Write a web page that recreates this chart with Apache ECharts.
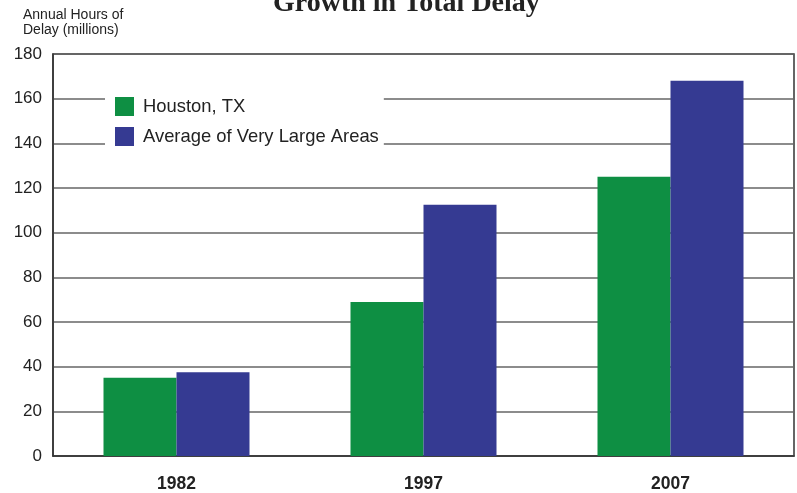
<!DOCTYPE html>
<html style='height: 100%'>
<head>
    <meta charset='utf-8'>
</head>
<body style='height: 100%; margin: 0; background: #fff'>
    <div id='container' style='width: 797px; height: 493px'></div>
    <script type='text/javascript' src='https://cdn.jsdelivr.net/npm/echarts@6/dist/echarts.min.js'></script>
    <script type="text/javascript">

var years = ['1982', '1997', '2007'];
var houston = [35, 69, 125];
var veryLarge = [37.5, 112.5, 168];
var seriesNames = ['Houston, TX', 'Average of Very Large Areas'];

var myChart = echarts.init(document.getElementById('container'));

var option = {
    animation: false,
    title: {
        text: 'Growth in Total Delay',
        left: 268,
        top: -15,
        textStyle: { fontFamily: 'Liberation Serif', fontWeight: 'bold', fontSize: 28, color: '#222' }
    },
    graphic: [{
        type: 'text',
        left: 23, top: 8,
        style: {
            text: 'Annual Hours of\nDelay (millions)',
            font: '14px "Liberation Sans"',
            fill: '#222',
            lineHeight: 15
        }
    }],
    grid: {
        left: 53, right: 3, top: 54, bottom: 37,
        show: true, borderColor: '#333', borderWidth: 1.5
    },
    legend: {
        data: seriesNames,
        orient: 'vertical',
        left: 105, top: 90,
        padding: [7, 5, 6, 10],
        itemGap: 11,
        itemWidth: 19, itemHeight: 19,
        backgroundColor: '#fff',
        icon: 'rect',
        textStyle: { fontFamily: 'Liberation Sans', fontSize: 18.4, color: '#222', padding: [0, 0, 0, 4] }
    },
    xAxis: {
        type: 'category',
        data: years,
        axisTick: { show: false },
        axisLine: { lineStyle: { color: '#333', width: 1.5 } },
        axisLabel: { fontFamily: 'Liberation Sans', fontWeight: 'bold', fontSize: 17.5, color: '#222', margin: 19 }
    },
    yAxis: {
        type: 'value',
        min: 0, max: 180, interval: 20,
        axisLine: { show: true, lineStyle: { color: '#333', width: 1.5 } },
        axisTick: { show: false },
        axisLabel: { fontFamily: 'Liberation Sans', fontSize: 17, color: '#222', margin: 11 },
        splitLine: { lineStyle: { color: '#666', width: 1.5 } }
    },
    series: [
        {
            name: seriesNames[0], type: 'bar', data: houston,
            itemStyle: { color: '#0e8f43' },
            barWidth: 73, barGap: '0%'
        },
        {
            name: seriesNames[1], type: 'bar', data: veryLarge,
            itemStyle: { color: '#353a92' },
            barWidth: 73, barGap: '0%'
        }
    ]
};

myChart.setOption(option);
    </script>
</body>
</html>
